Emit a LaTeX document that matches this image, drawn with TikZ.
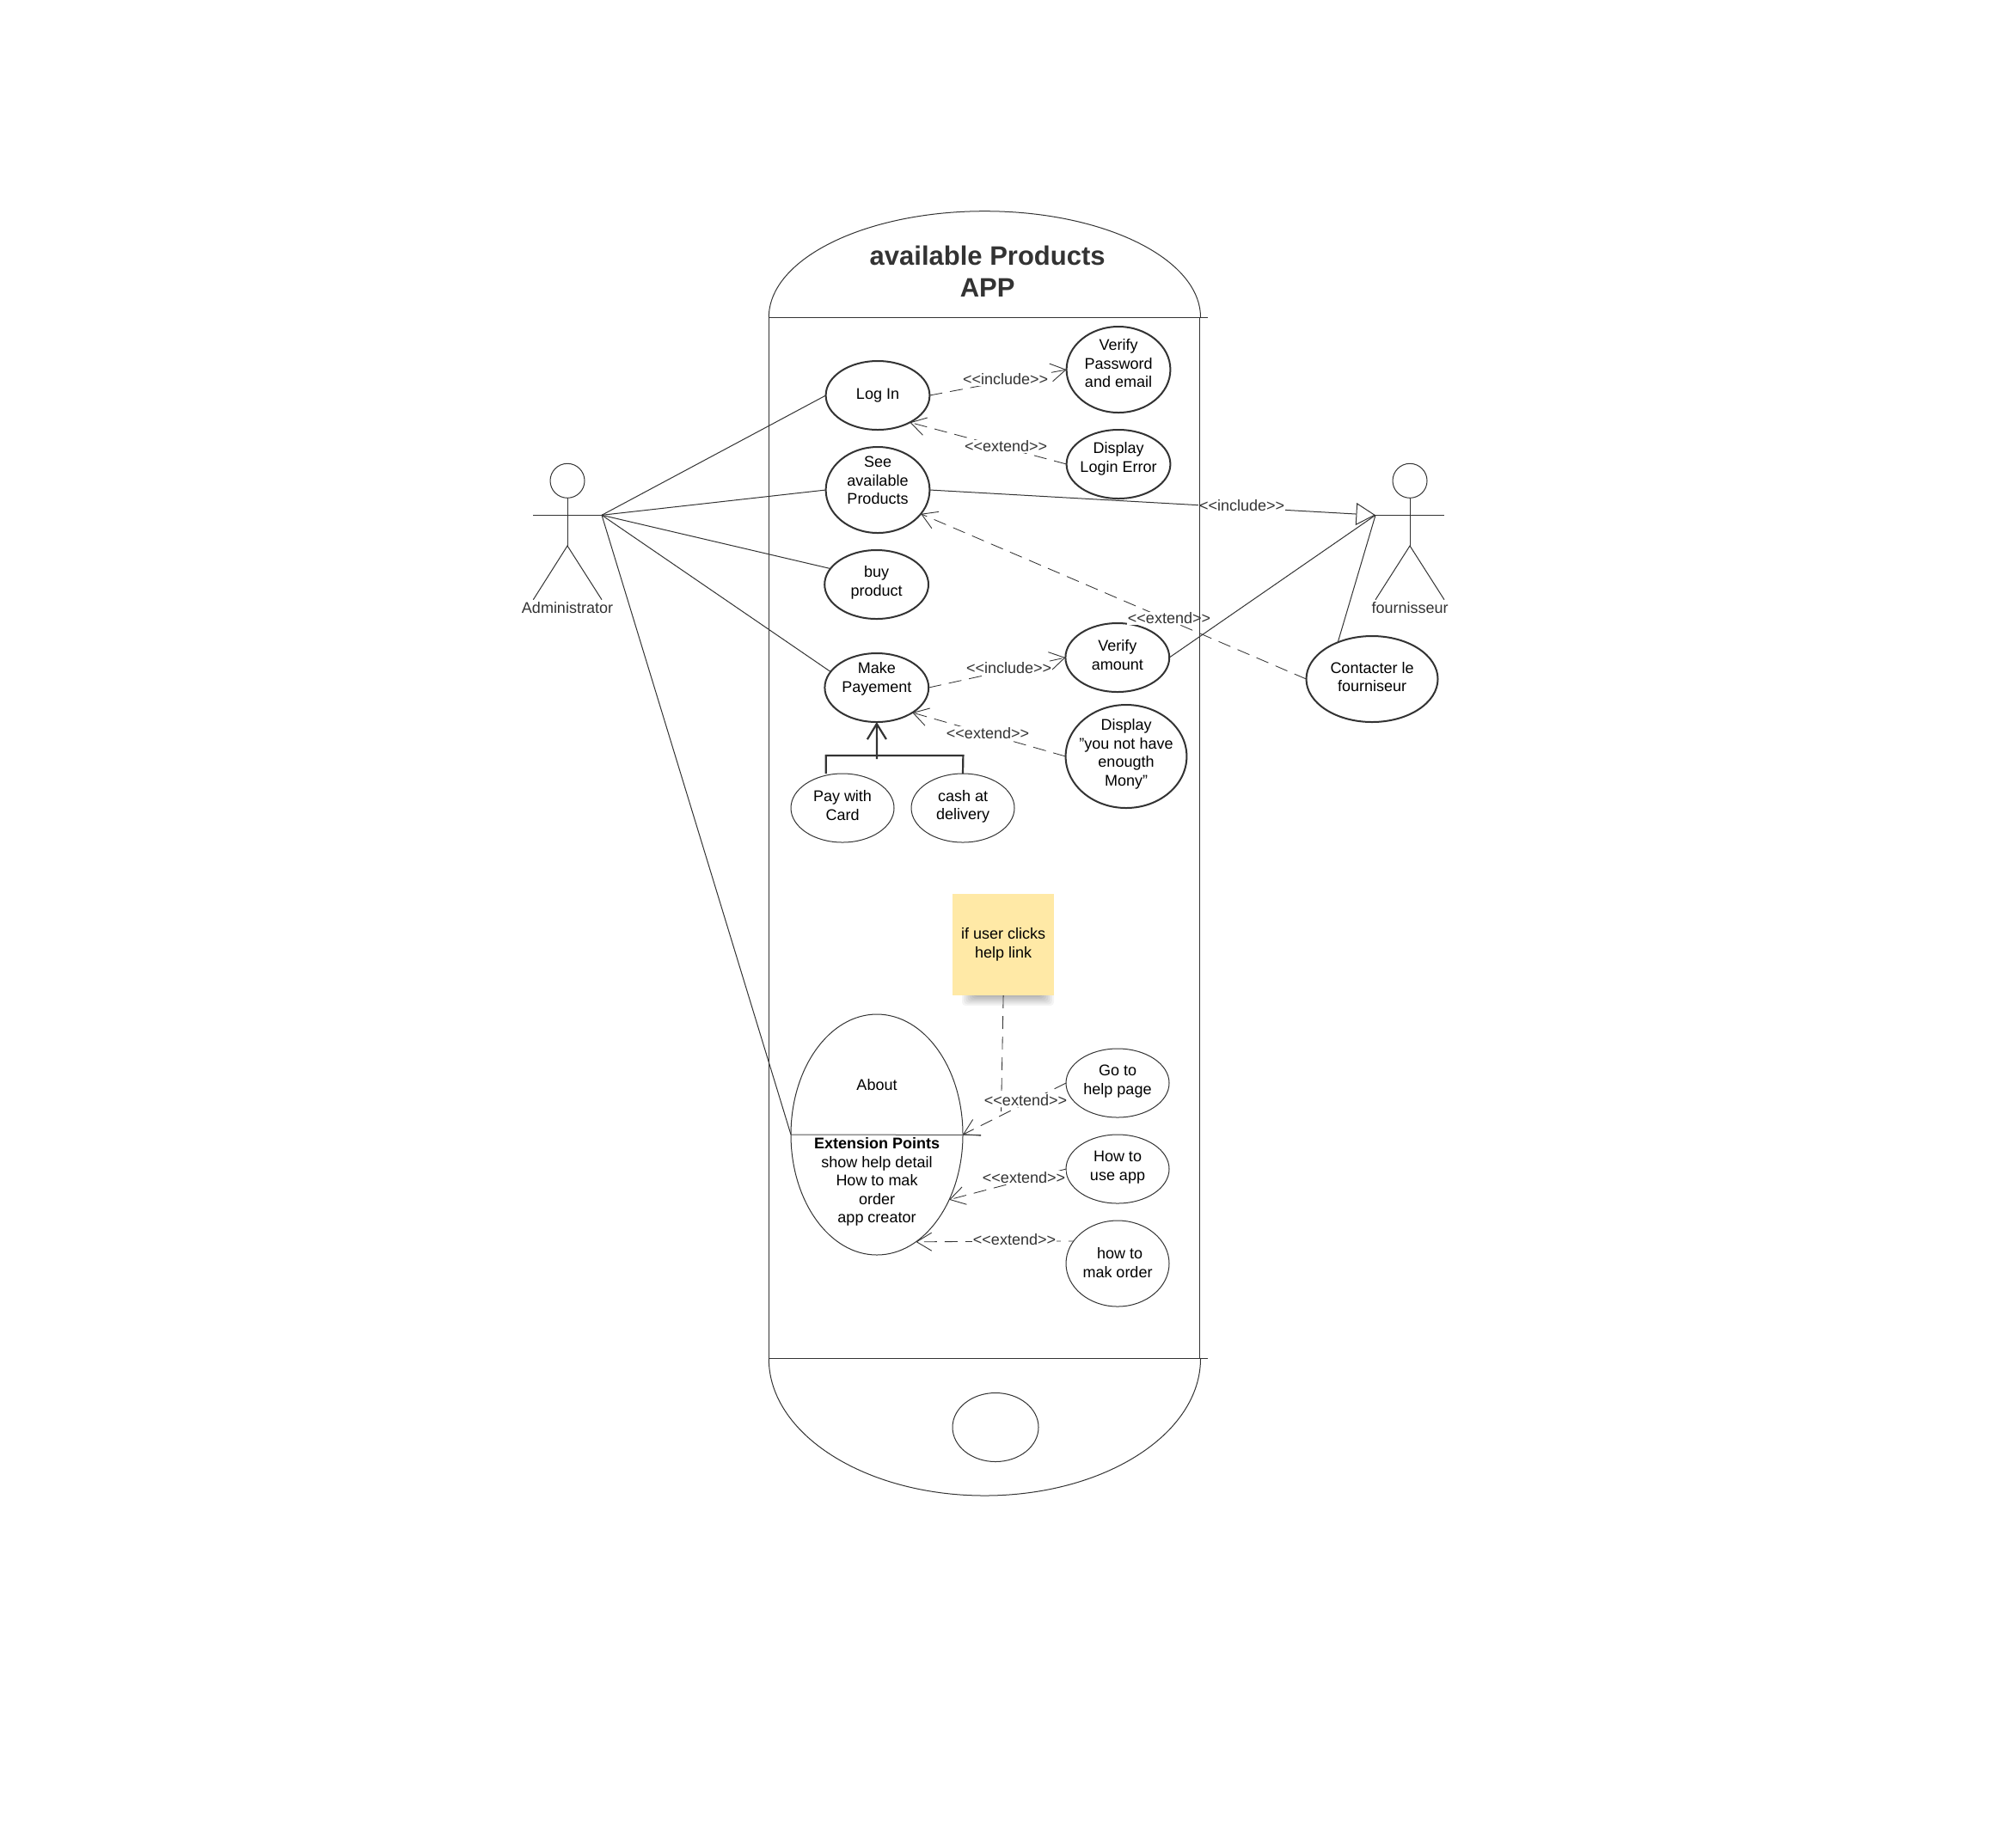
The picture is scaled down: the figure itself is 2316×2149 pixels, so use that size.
\documentclass[tikz,border=0pt]{standalone}
\usepackage{fontspec}
\setmainfont{Liberation Sans}
\usetikzlibrary{arrows.meta,shapes.geometric}
\definecolor{ink}{HTML}{333333}
\definecolor{notefill}{HTML}{FFE9A6}
\tikzset{
  thinline/.style={draw=ink,line width=0.5pt},
  ucbase/.style={ellipse,inner sep=0pt,outer sep=0pt,align=center,text=black,font=\fontsize{9}{10.75}\selectfont},
  ucthick/.style={ucbase,draw=ink,line width=1pt},
  ucthin/.style={ucbase,draw=ink,line width=0.5pt},
  size/.style 2 args={minimum width=#1pt,minimum height=#2pt},
  utext/.style={align=center,text=black,inner sep=0pt,font=\fontsize{9}{10.75}\selectfont},
  stereo/.style={fill=white,inner sep=0.6pt,text=ink,font=\fontsize{9}{10.75}\selectfont},
  dep/.style={draw=ink,line width=0.42pt,dash pattern=on 7.5pt off 4.5pt,-{Straight Barb[length=8.7pt,width=10.5pt,line width=0.45pt]}},
  depnotip/.style={draw=ink,line width=0.42pt,dash pattern=on 7.5pt off 4.5pt},
  actorlabel/.style={text=ink,inner sep=0pt,font=\fontsize{9}{10.75}\selectfont},
  assoc/.style={thinline},
  gen/.style={draw=ink,line width=0.5pt,-{Triangle[open,fill=white,length=11.3pt,width=12.9pt,line width=0.5pt]}},
}
\begin{document}
\begin{tikzpicture}[x=0.5pt,y=-0.5pt]
\useasboundingbox (0,0) rectangle (2316,2149);
\fill[white] (0,0) rectangle (2316,2149);

% use cases
\node[ucthick,size={60.4}{40},label={[utext,yshift=-0.2pt]center:Log In}] (login) at (1021,460) {};
\node[ucthick,size={60.4}{50},label={[utext,yshift=3.7pt]center:Verify\\Password\\and email}] (verifypw) at (1301,430) {};
\node[ucthick,size={60.4}{40},label={[utext,yshift=3pt]center:Display\\Login Error}] (loginerr) at (1301,540) {};
\node[ucthick,size={60.4}{50},label={[utext,yshift=5.5pt]center:See\\available\\Products}] (see) at (1021,570) {};
\node[ucthick,size={60.4}{40},label={[utext,yshift=1pt]center:buy\\product}] (buy) at (1019.6,680) {};
\node[ucthick,size={60.4}{40},label={[utext,yshift=5.1pt]center:Make\\Payement}] (pay) at (1019.8,800) {};
\node[ucthick,size={60.4}{40},label={[utext,yshift=1.6pt]center:Verify\\amount}] (vamount) at (1299.8,765) {};
\node[ucthick,size={70.4}{60},label={[utext,yshift=1.3pt]center:Display\\"you not have\\enougth\\Mony"}] (nomoney) at (1310,880) {};
\node[ucthin,size={60}{40},label={[utext,yshift=1.6pt]center:Pay with\\Card}] (card) at (980,940) {};
\node[ucthin,size={60}{40},label={[utext,yshift=0.9pt]center:cash at\\delivery}] (cash) at (1120,940) {};
\node[ucthick,size={76.5}{50},label={[utext,yshift=1.3pt]center:Contacter le\\fourniseur}] (contact) at (1596,790) {};
\node[ucthin,size={100}{140},label={[utext,yshift=29pt]center:About}] (about) at (1020,1320) {};
\node[utext] (extpts) at (1020,1375) {\textbf{Extension Points}\\show help detail\\How to mak\\order\\app creator};
\node[ucthin,size={60}{40},label={[utext,yshift=0.9pt]center:Go to\\help page}] (goto) at (1300,1260) {};
\node[ucthin,size={60}{40},label={[utext,yshift=0.9pt]center:How to\\use app}] (howuse) at (1300,1360) {};
\node[ucthin,size={60}{50},label={[utext,yshift=0.6pt]center:\hspace*{2.5pt}how to\\mak order}] (howorder) at (1300,1470) {};
\draw[thinline,draw=ink!85] (about.west) -- (1141,1320.4);

% note with its soft shadow
\foreach \i in {0,...,7}{
  \fill[black,opacity=0.045,rounded corners=2pt] (1119+\i*2.2,1150) rectangle (1226-\i*2.2,1170-\i*1.7);
}
\node[fill=notefill,minimum width=58.9pt,minimum height=58.85pt,inner sep=0pt,utext] (note) at (1167.1,1098.85) {if user clicks\\help link};

% actors
\node[circle,thinline,minimum size=20pt,inner sep=0pt] (adminhead) at (660,559.3) {};
\coordinate (adminhand) at (700,599.3);
\coordinate (adminhip) at (660,635);
\draw[thinline] (adminhead.south) -- (adminhip);
\draw[thinline] (620,599.3) -- (adminhand);
\draw[thinline] (620.3,697.7) -- (adminhip) -- (700,697.7);
\node[actorlabel] (adminlabel) at (660,706.7) {Administrator};

\node[circle,thinline,minimum size=20pt,inner sep=0pt] (supplierhead) at (1640,559.3) {};
\coordinate (supplierhand) at (1600,599.3);
\coordinate (supplierhip) at (1640,635);
\draw[thinline] (supplierhead.south) -- (supplierhip);
\draw[thinline] (supplierhand) -- (1680,599.3);
\draw[thinline] (1600,697.7) -- (supplierhip) -- (1680,697.7);
\node[actorlabel] (supplierlabel) at (1640,706.7) {fournisseur};

% associations
\draw[assoc] (adminhand) -- (login.west);
\draw[assoc] (adminhand) -- (see.west);
\draw[assoc] (adminhand) -- (buy.161);
\draw[assoc] (adminhand) -- (pay.161);
\draw[assoc] (adminhand) -- (about.west);
\draw[assoc] (vamount.east) -- (supplierhand);
\draw[assoc] (contact.133) -- (supplierhand);
\draw[gen] (see.east) -- (supplierhand);

% dependencies
\draw[dep] (login.east) -- (verifypw.west);
\draw[dep] (loginerr.west) -- (login.-40);
\draw[dep] (contact.west) -- (see.-29);
\draw[dep] (pay.east) -- (vamount.west);
\draw[dep] (nomoney.west) -- (pay.-35.6);
\draw[dep] (goto.west) -- (about.east);
\draw[dep] (howuse.west) -- (about.-42.5);
\draw[dep,dash phase=4.5pt] (howorder.153.7) -- (about.-70.9);
\coordinate (notejoin) at (1164.5,1297);
\draw[depnotip] (note.south) -- (notejoin);

% generalisation
\coordinate (genjoin) at (1020,879);
\draw[draw=ink,line width=1.1pt] (960.7,900) -- (960.7,879) -- (1120.4,879) -- (cash.north);
\draw[draw=ink,line width=1.1pt,-{Straight Barb[length=9pt,width=11pt,line width=1.1pt]}] (1020,883) -- (pay.south);

% stereotype labels
\node[stereo] (lab1) at (1169.6,441) {<{}<include>{}>};
\node[stereo] (lab2) at (1170.2,519.3) {<{}<extend>{}>};
\node[stereo] (lab3) at (1444.7,588.3) {<{}<include>{}>};
\node[stereo] (lab4) at (1360,719.3) {<{}<extend>{}>};
\node[stereo] (lab5) at (1173.7,777.3) {<{}<include>{}>};
\node[stereo] (lab6) at (1149,852.7) {<{}<extend>{}>};
\node[stereo] (lab7) at (1193,1280) {<{}<extend>{}>};
\node[stereo] (lab8) at (1191,1370) {<{}<extend>{}>};
\node[stereo] (lab9) at (1180,1442.3) {<{}<extend>{}>};

% phone frame
\draw[thinline] (894.3,369.3) arc[start angle=180,end angle=0,x radius=125.55pt,y radius=61.8pt];
\draw[thinline] (894.3,1580.6) arc[start angle=180,end angle=360,x radius=125.55pt,y radius=79.7pt];
\draw[thinline] (894.3,369.3) -- (894.3,1580.6);
\draw[thinline] (1395.4,369.3) -- (1395.4,1580.6);
\draw[thinline] (894.3,369.3) -- (1405,369.3);
\draw[thinline] (894.3,1580.6) -- (1405,1580.6);
\node[ucthin,size={50}{40}] (home) at (1158,1660.5) {};
\node[align=center,inner sep=0pt,text=ink,font=\fontsize{15.5}{18.6}\selectfont\bfseries] (title) at (1148.7,315.5) {available Products\\APP};
\end{tikzpicture}
\end{document}
